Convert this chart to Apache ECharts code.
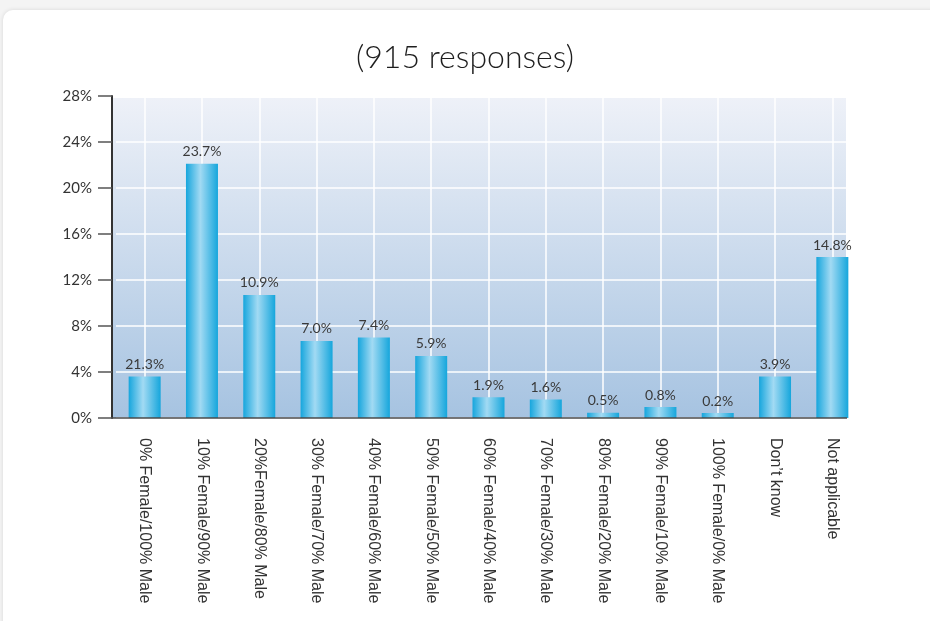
<!DOCTYPE html>
<html><head><meta charset="utf-8">
<script src="https://cdn.jsdelivr.net/npm/echarts@6/dist/echarts.min.js"></script>
<style>
html,body{margin:0;padding:0;background:#f4f4f4;width:930px;height:621px;overflow:hidden}
#card{position:absolute;left:3px;top:10px;width:960px;height:640px;background:#fff;border-radius:10px;box-shadow:0 0 4px rgba(0,0,0,0.12)}
#c{position:absolute;left:0;top:0;width:930px;height:621px}
</style></head><body>
<div id="card"></div>
<div id="c"></div>
<script>
const categories = ["0% Female/100% Male","10% Female/90% Male","20%Female/80% Male","30% Female/70% Male","40% Female/60% Male","50% Female/50% Male","60% Female/40% Male","70% Female/30% Male","80% Female/20% Male","90% Female/10% Male","100% Female/0% Male","Don\u2019t know","Not applicable"];
const barValues = [3.6, 22.1, 10.7, 6.7, 7.0, 5.4, 1.8, 1.6, 0.45, 0.95, 0.43, 3.6, 14.0];
const barLabels = ["21.3%","23.7%","10.9%","7.0%","7.4%","5.9%","1.9%","1.6%","0.5%","0.8%","0.2%","3.9%","14.8%"];
const yTicks = [0, 4, 8, 12, 16, 20, 24, 28];

const chart = echarts.init(document.getElementById('c'), null, {renderer:'canvas'});
chart.setOption({
  animation:false,
  title:{text:'(915 responses)', left:'center', top:37,
    textStyle:{fontFamily:'Lato', fontSize:32, fontWeight:300, color:'#1e1e1e'}},
  graphic:[
    {type:'rect', z:-10, silent:true,
     shape:{x:112, y:98, width:734, height:320},
     style:{fill:new echarts.graphic.LinearGradient(0,0,0,1,[{offset:0,color:'#eef1f8'},{offset:1,color:'#a6c3e1'}])}},
    {type:'line', z:100, silent:true, shape:{x1:112, y1:418, x2:847, y2:418},
     style:{stroke:'#4a4a4a', lineWidth:1.5}}
  ],
  grid:{left:116, right:69, top:96, bottom:203, containLabel:false, outerBoundsMode:'none'},
  xAxis:{type:'category', data:categories,
    axisLine:{show:false},
    axisTick:{alignWithLabel:true, length:10, lineStyle:{color:'#555', width:1.5}},
    splitLine:{show:true, alignWithLabel:true, lineStyle:{color:'#ffffff', width:1.5}},
    axisLabel:{rotate:-90, margin:20, fontFamily:'Liberation Sans', fontSize:16, color:'#333', interval:0}},
  yAxis:{type:'value', min:yTicks[0], max:yTicks[yTicks.length-1], interval:4, offset:4,
    axisLine:{show:true, lineStyle:{color:'#333', width:2}},
    axisTick:{show:true, length:14, lineStyle:{color:'#555', width:1.5}},
    splitLine:{show:true, lineStyle:{color:'#ffffff', width:1.5}},
    axisLabel:{formatter:'{value}%', margin:20, overflow:'none', fontFamily:'Lato', fontSize:15, color:'#333'}},
  series:[{type:'bar', data:barValues, barWidth:32,
    itemStyle:{color:new echarts.graphic.LinearGradient(0,0,1,0,[
      {offset:0,color:'#16a6dd'},{offset:0.45,color:'#a2daf3'},{offset:1,color:'#15a6dc'}])},
    label:{show:true, position:'top', distance:5, fontFamily:'Lato', fontSize:14, color:'#3a3a3a',
      formatter:p=>barLabels[p.dataIndex]}}]
});
</script></body></html>
